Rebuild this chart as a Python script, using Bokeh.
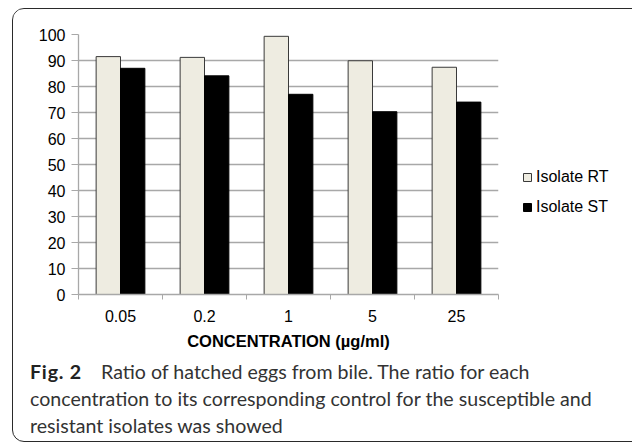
from bokeh.plotting import figure
from bokeh.layouts import column
from bokeh.models import (FixedTicker, Legend, LegendItem, Div,
                          ColumnDataSource, Range1d)
from bokeh.embed import file_html
from bokeh.resources import INLINE

categories = ["0.05", "0.2", "1", "5", "25"]
isolate_rt = [91.5, 91.2, 99.3, 89.9, 87.4]
isolate_st = [87.0, 84.1, 77.0, 70.3, 74.0]
series_names = ["Isolate RT", "Isolate ST"]
y_ticks = [0, 10, 20, 30, 40, 50, 60, 70, 80, 90, 100]
x_title = "CONCENTRATION (\u00b5g/ml)"
caption_bold = "Fig. 2"
caption_lines = [
    "Ratio of hatched eggs from bile. The ratio for each",
    "concentration to its corresponding control for the susceptible and",
    "resistant isolates was showed",
]

FONT = "Liberation Sans"
CAP_FONT = "Lato"
GRID = "#a8a8a8"

idx = list(range(len(categories)))
bar_w = 0.29
src = ColumnDataSource(dict(
    x_rt=[i - bar_w / 2 for i in idx],
    x_st=[i + bar_w / 2 for i in idx],
    rt=isolate_rt,
    st=isolate_st,
))

p = figure(frame_width=420, frame_height=260,
           min_border_left=65, min_border_right=132,
           min_border_top=25, min_border_bottom=61,
           x_range=Range1d(-0.5, len(categories) - 0.5),
           y_range=Range1d(0, 100),
           output_backend="svg", toolbar_location=None)
p.outline_line_color = None
p.background_fill_color = "white"
p.border_fill_color = "white"

r1 = p.vbar(x="x_rt", top="rt", width=bar_w, source=src,
            fill_color="#eeece1", line_color="#3a3a3a", line_width=1)
r2 = p.vbar(x="x_st", top="st", width=bar_w, source=src,
            fill_color="#000000", line_color="#000000", line_width=1)

# x axis
xa = p.xaxis[0]
xa.ticker = FixedTicker(ticks=idx, minor_ticks=[i - 0.5 for i in range(len(categories) + 1)])
xa.major_label_overrides = {i: c for i, c in zip(idx, categories)}
xa.major_tick_out = 0
xa.major_tick_in = 0
xa.minor_tick_out = 5
xa.minor_tick_in = 0
xa.minor_tick_line_color = GRID
xa.axis_line_color = GRID
xa.axis_line_width = 1.3
xa.major_label_standoff = 10
xa.major_label_text_font = FONT
xa.major_label_text_font_size = "16px"
xa.major_label_text_color = "#000000"
xa.axis_label = x_title
xa.axis_label_text_font = FONT
xa.axis_label_text_font_size = "16.5px"
xa.axis_label_text_font_style = "bold"
xa.axis_label_text_color = "#000000"
xa.axis_label_standoff = 7

# y axis
ya = p.yaxis[0]
ya.ticker = FixedTicker(ticks=y_ticks)
ya.minor_tick_line_color = None
ya.major_tick_out = 7
ya.major_tick_in = 0
ya.major_tick_line_color = GRID
ya.axis_line_color = GRID
ya.axis_line_width = 1.3
ya.major_label_standoff = 6
ya.major_label_text_font = FONT
ya.major_label_text_font_size = "16px"
ya.major_label_text_color = "#000000"

p.xgrid.grid_line_color = None
p.ygrid.grid_line_color = GRID
p.ygrid.grid_line_width = 1.3

legend = Legend(items=[LegendItem(label=series_names[0], renderers=[r1]),
                       LegendItem(label=series_names[1], renderers=[r2])],
                location=(24, 77))
legend.glyph_width = 10
legend.glyph_height = 10
legend.label_standoff = 4
legend.spacing = 10
legend.padding = 0
legend.margin = 0
legend.label_height = 20
legend.border_line_color = None
legend.background_fill_alpha = 0
legend.label_text_font = FONT
legend.label_text_font_size = "16px"
legend.label_text_color = "#000000"
p.add_layout(legend, "right")

cap_html = (
    '<div style="padding:3px 0 0 17px; font-family:Lato; font-size:19.6px; '
    'line-height:27px; color:#333333; white-space:nowrap;">'
    '<span style="display:inline-block; width:71px; font-weight:bold; color:#222222; '
    'letter-spacing:0.8px;">' + caption_bold + '</span>'
    + '<br>'.join(caption_lines) + '</div>'
)
cap = Div(text=cap_html, width=617, height=86, margin=0)

layout = column(p, cap, spacing=0, margin=(8, 0, 0, 12),
                styles={"border": "1.3px solid #2a2a2a", "border-radius": "12px",
                        "overflow": "hidden"})

open("out.html", "w").write(file_html(layout, INLINE))
